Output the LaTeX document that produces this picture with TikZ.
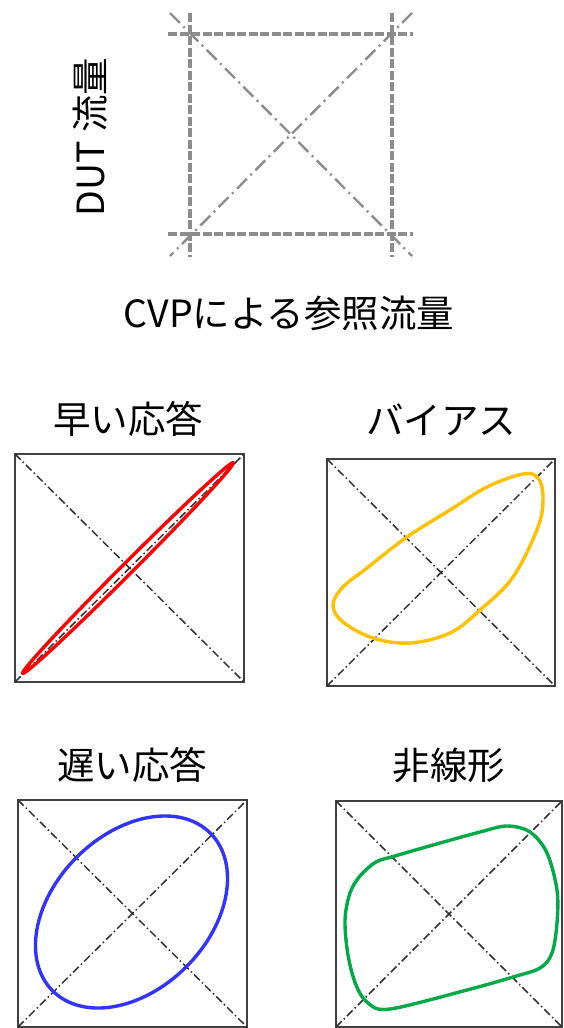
\documentclass[tikz,border=0pt]{standalone}
\usepackage{fontspec}
\setmainfont{Noto Sans CJK JP}
\begin{document}
\begin{tikzpicture}[x=1pt,y=-1pt,
  lbl/.style={font=\fontsize{37.5}{42}\selectfont, inner sep=0pt},
  frame/.style={draw=black!75, line width=2pt},
  diag/.style={draw=black!80, line width=1.5pt, dash pattern=on 8pt off 3pt on 1.5pt off 3pt},
  gdash/.style={draw=black!45, line width=3.2pt, dash pattern=on 9pt off 2.5pt},
  gdiag/.style={draw=black!45, line width=2.4pt, dash pattern=on 14pt off 5pt on 2pt off 5pt},
  curve/.style={line width=3.4pt, line join=round}]
\useasboundingbox (0,0) rectangle (564,1028);
\fill[white] (0,0) rectangle (564,1028);

% top schematic
\coordinate (tl) at (190,34); \coordinate (tr) at (392,34);
\coordinate (bl) at (190,234); \coordinate (br) at (392,234);
\draw[gdash] (168,34) -- (413,34);
\draw[gdash] (168,234) -- (413,234);
\draw[gdash] (190,13) -- (190,257);
\draw[gdash] (392,13) -- (392,257);
\draw[gdiag] (170,13) -- (412,256);
\draw[gdiag] (412,13) -- (170,256);
\node[lbl, rotate=90] (ylab) at (90,137) {DUT 流量};
\node[lbl] (xlab) at (289,313) {CVPによる参照流量};

% panel 1
\node[lbl] (t1) at (128,419) {早い応答};
\coordinate (a1) at (15,454); \coordinate (b1) at (244,682);
\draw[frame] (a1) rectangle (b1);
\draw[diag] (15,454) -- (244,682);
\draw[diag] (15,682) -- (244,454);
\draw[curve, red] (128,568) ellipse[x radius=149, y radius=5.5, rotate=45];

% panel 2
\node[lbl] (t2) at (441,420) {バイアス};
\coordinate (a2) at (327,459); \coordinate (b2) at (555,686);
\draw[frame] (a2) rectangle (b2);
\draw[diag] (327,459) -- (555,686);
\draw[diag] (327,686) -- (555,459);
\draw[curve, draw={rgb,255:red,255;green,192;blue,0}] plot[smooth cycle, tension=0.6] coordinates {
 (523,474) (538,478) (543,497) (538,527) (513,577) (480,610) (450,633) (410,643)
 (373,638) (343,622) (333,605) (343,587) (367,568) (407,537) (450,510) (487,487)};

% panel 3
\node[lbl] (t3) at (132,765) {遅い応答};
\coordinate (a3) at (18,800); \coordinate (b3) at (247,1027);
\draw[frame] (a3) rectangle (b3);
\draw[diag] (18,800) -- (247,1027);
\draw[diag] (18,1027) -- (247,800);
\draw[curve, draw={rgb,255:red,51;green,51;blue,255}] (131.5,912) ellipse[x radius=111.5, y radius=77.5, rotate=45];

% panel 4
\node[lbl] (t4) at (449,765) {非線形};
\coordinate (a4) at (336,801); \coordinate (b4) at (562,1027);
\draw[frame] (a4) rectangle (b4);
\draw[diag] (336,801) -- (562,1027);
\draw[diag] (336,1027) -- (562,801);
\draw[curve, draw={rgb,255:red,0;green,170;blue,70}] plot[smooth cycle, tension=0.55] coordinates {
 (507,826) (530,832) (547,853) (557,890) (557,923) (552,953) (540,968) (513,977)
 (467,990) (390,1009) (368,1003) (356,985) (348,955) (345,920) (350,893) (360,876)
 (376,862) (395,856) (433,845) (480,832)};
\end{tikzpicture}
\end{document}
